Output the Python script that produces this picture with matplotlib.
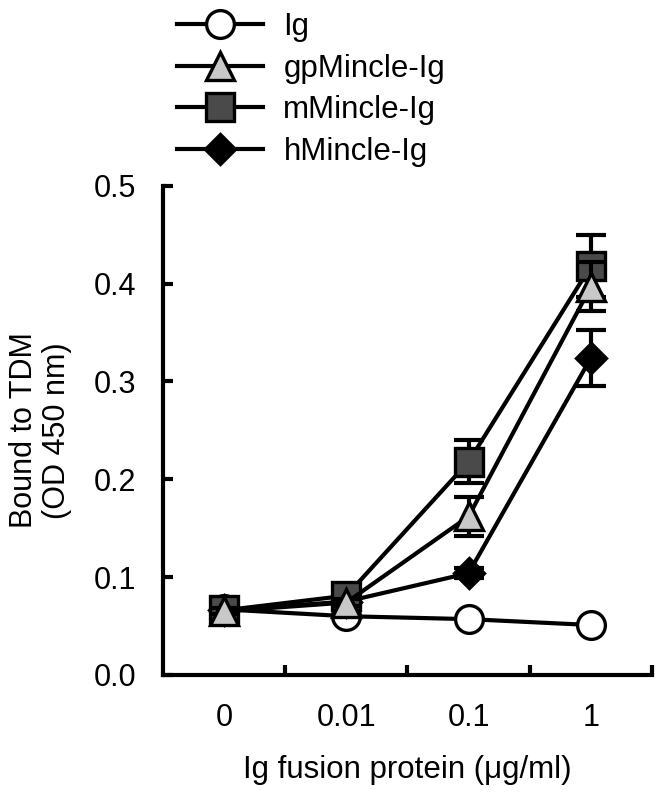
import matplotlib
matplotlib.use("Agg")
import matplotlib.pyplot as plt

plt.rcParams['font.family'] = ['Liberation Sans', 'DejaVu Sans']

conc_labels = ["0", "0.01", "0.1", "1"]
xpos = [0, 1, 2, 3]

ig = [0.067, 0.060, 0.057, 0.051]
gp = [0.065, 0.074, 0.162, 0.397]
gp_err = [0.003, 0.004, 0.020, 0.025]
mm = [0.066, 0.081, 0.218, 0.418]
mm_err = [0.003, 0.004, 0.022, 0.032]
hm = [0.066, 0.075, 0.104, 0.324]
hm_err = [0.002, 0.003, 0.005, 0.029]

fig = plt.figure(figsize=(6.62, 7.94), dpi=100)
ax = fig.add_axes([0.246, 0.150, 0.739, 0.616])

series = [
    ("Ig", ig, None, "o", "white", 20, 1),
    ("gpMincle-Ig", gp, gp_err, "^", "#c8c8c8", 20, 5),
    ("mMincle-Ig", mm, mm_err, "s", "#4a4a4a", 20, 4),
    ("hMincle-Ig", hm, hm_err, "D", "black", 15, 3),
]
for name, vals, err, mk, fc, ms, z in series:
    if err is not None:
        ax.errorbar(xpos, vals, yerr=err, fmt="none", ecolor="black", elinewidth=3,
                    capsize=11, capthick=3, zorder=z - 0.5)
    ax.plot(xpos, vals, marker=mk, markersize=ms, markerfacecolor=fc,
            markeredgecolor="black", markeredgewidth=2.4, color="black", lw=3,
            label=name, zorder=z)

ax.set_xlim(-0.5, 3.5)
ax.set_ylim(0, 0.5)
ax.set_xticks(xpos)
ax.set_xticklabels(conc_labels)
ax.set_xticks([0.5, 1.5, 2.5, 3.5], minor=True)
ax.tick_params(axis="x", which="major", length=0, pad=20, labelsize=22)
ax.tick_params(axis="x", which="minor", direction="in", length=7, width=3)
ax.set_yticks([0, 0.1, 0.2, 0.3, 0.4, 0.5])
ax.set_yticklabels(["0.0", "0.1", "0.2", "0.3", "0.4", "0.5"])
ax.tick_params(axis="y", direction="in", length=7, width=3, pad=19, labelsize=22)
for s in ["top", "right"]:
    ax.spines[s].set_visible(False)
for s in ["left", "bottom"]:
    ax.spines[s].set_linewidth(3)

ax.set_xlabel("Ig fusion protein (\u03bcg/ml)", fontsize=22.5, labelpad=16)
ax.set_ylabel("Bound to TDM\n(OD 450 nm)", fontsize=22, labelpad=16, linespacing=1.1)

fig.legend(loc="upper left", bbox_to_anchor=(0.244, 1.005), frameon=False, fontsize=22.5,
           handlelength=2.75, handletextpad=0.65, labelspacing=0.38, borderaxespad=0.1)

fig.savefig("out.png", dpi=100)
